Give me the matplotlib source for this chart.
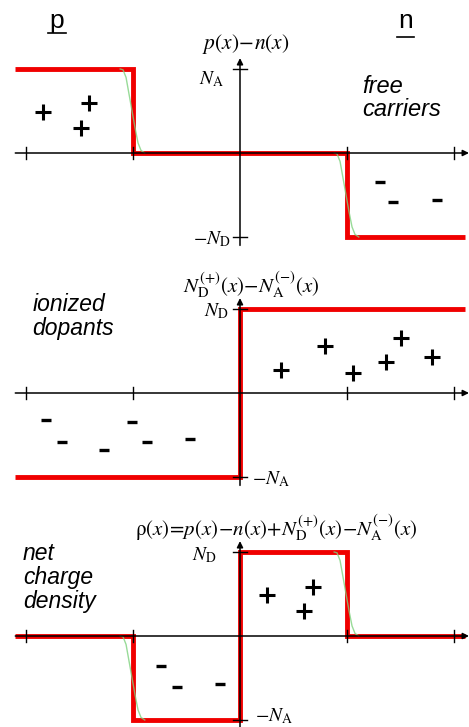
import numpy as np
import matplotlib.pyplot as plt

plt.rcParams['mathtext.fontset'] = 'stix'
plt.rcParams['font.family'] = ['Liberation Sans', 'DejaVu Sans']

RED = '#f00000'
GREEN = '#7fd27f'

# x in units of the depletion width, region boundaries of the junction
x_edges = [-2.1, -1.0, 0.0, 1.0, 2.1]
carriers = [1, 0, 0, -1]        # p(x) - n(x), in units of N_A / N_D
dopants = [-1, -1, 1, 1]        # N_D+ - N_A-
net_charge = list(np.add(carriers, dopants))

# rounded free-carrier edge: offset from the step and fraction of the step height
edge_dx = [-0.12, -0.093, -0.065, -0.037, -0.009, 0.019, 0.047, 0.075, 0.11]
edge_frac = [1.0, 0.99, 0.90, 0.70, 0.50, 0.30, 0.12, 0.03, 0.0]

# charge symbols sprinkled in each panel (x, y)
carrier_plus = [(-1.84, 0.49), (-1.41, 0.60), (-1.49, 0.30)]
carrier_minus = [(1.31, -0.35), (1.43, -0.58), (1.84, -0.56)]
dopant_plus = [(0.38, 0.27), (0.79, 0.56), (1.06, 0.24), (1.36, 0.37), (1.50, 0.65), (1.79, 0.43)]
dopant_minus = [(-1.81, -0.32), (-1.66, -0.58), (-1.27, -0.68), (-1.01, -0.35), (-0.87, -0.58), (-0.47, -0.55)]
net_plus = [(0.25, 0.49), (0.68, 0.58), (0.60, 0.30)]
net_minus = [(-0.74, -0.36), (-0.59, -0.61), (-0.19, -0.57)]

W, H = 469, 727
PX_X, X0 = 107.0, 240.0     # pixels per x unit, pixel of x = 0
PX_Y = 84.0                 # pixels per y unit

fig = plt.figure(figsize=(W / 100, H / 100), dpi=100)


def make_ax(top, bot, zero):
    ax = fig.add_axes([0, 1 - bot / H, 1, (bot - top) / H])
    ax.set_xlim(-X0 / PX_X, (W - X0) / PX_X)
    ax.set_ylim(-(bot - zero) / PX_Y, (zero - top) / PX_Y)
    ax.axis('off')
    return ax


def draw_axes(ax, ybot):
    arrow = dict(arrowstyle='-|>', color='k', lw=1.1, mutation_scale=9,
                 shrinkA=0, shrinkB=0)
    ax.annotate('', xy=(2.14, 0), xytext=(-2.1, 0), arrowprops=arrow, zorder=5)
    ax.annotate('', xy=(0, 1.13), xytext=(0, ybot), arrowprops=arrow, zorder=5)
    for xt in [-2, -1, 1, 2]:
        ax.plot([xt, xt], [-0.07, 0.07], color='k', lw=1.0, zorder=5)
    for yt in [-1, 1]:
        ax.plot([-0.065, 0.065], [yt, yt], color='k', lw=1.0, zorder=5)


def draw_profile(ax, levels, smooth):
    ax.stairs(levels, x_edges, baseline=None, color=RED, lw=3.5, zorder=2)
    if not smooth:
        return
    for i in range(1, len(levels)):
        if carriers[i] != carriers[i - 1]:
            a, b = levels[i - 1], levels[i]
            ax.plot(x_edges[i] + np.array(edge_dx),
                    b + (a - b) * np.array(edge_frac),
                    color=GREEN, lw=1.0, alpha=0.8, zorder=3)


def draw_charges(ax, plus, minus):
    px, py = zip(*plus)
    ax.plot(px, py, ls='none', marker='+', ms=12, mew=2.2, color='k', zorder=4)
    mx, my = zip(*minus)
    ax.plot(mx, my, ls='none', marker='_', ms=6.5, mew=2.4, color='k', zorder=4)


# free carriers
ax1 = make_ax(0, 250, 153)
draw_profile(ax1, carriers, True)
draw_axes(ax1, -1.1)
draw_charges(ax1, carrier_plus, carrier_minus)
ax1.text(0.05, 1.24, r'$p(x)\!-\!n(x)$', ha='center', va='baseline', fontsize=15.5)
ax1.text(-0.15, 0.88, r'$N_{\mathrm{A}}$', ha='right', va='center', fontsize=14)
ax1.text(-0.09, -1.03, r'$-N_{\mathrm{D}}$', ha='right', va='center', fontsize=14)
ax1.text(1.14, 0.93, 'free\ncarriers', ha='left', va='top', fontsize=17,
         style='italic', linespacing=1.0)
ax1.text(-1.71, 1.49, 'p', ha='center', va='baseline', fontsize=19)
ax1.plot([-1.79, -1.63], [1.43, 1.43], color='k', lw=1.2)
ax1.text(1.55, 1.49, 'n', ha='center', va='baseline', fontsize=19)
ax1.plot([1.47, 1.63], [1.38, 1.38], color='k', lw=1.2)

# ionized dopants
ax2 = make_ax(250, 490, 393)
draw_profile(ax2, dopants, False)
draw_axes(ax2, -1.1)
draw_charges(ax2, dopant_plus, dopant_minus)
ax2.text(0.10, 1.19, r'$N_{\mathrm{D}}^{(+)}(x)\!-\!N_{\mathrm{A}}^{(-)}(x)$',
         ha='center', va='baseline', fontsize=15)
ax2.text(-0.11, 0.98, r'$N_{\mathrm{D}}$', ha='right', va='center', fontsize=14)
ax2.text(0.11, -1.02, r'$-N_{\mathrm{A}}$', ha='left', va='center', fontsize=14)
ax2.text(-1.94, 1.19, 'ionized\ndopants', ha='left', va='top', fontsize=16.5,
         style='italic', linespacing=1.05)

# net charge density
ax3 = make_ax(490, 727, 636)
draw_profile(ax3, net_charge, True)
draw_axes(ax3, -1.2)
draw_charges(ax3, net_plus, net_minus)
ax3.text(0.34, 1.20,
         r'$\mathrm{\rho}(x)\!=\!p(x)\!-\!n(x)\!+\!N_{\mathrm{D}}^{(+)}(x)\!-\!N_{\mathrm{A}}^{(-)}(x)$',
         ha='center', va='baseline', fontsize=15)
ax3.text(-0.22, 0.96, r'$N_{\mathrm{D}}$', ha='right', va='center', fontsize=14)
ax3.text(0.14, -0.96, r'$-N_{\mathrm{A}}$', ha='left', va='center', fontsize=14)
ax3.text(-2.03, 1.12, 'net\ncharge\ndensity', ha='left', va='top', fontsize=16.5,
         style='italic', linespacing=1.05)

fig.savefig('out.png', dpi=100)
